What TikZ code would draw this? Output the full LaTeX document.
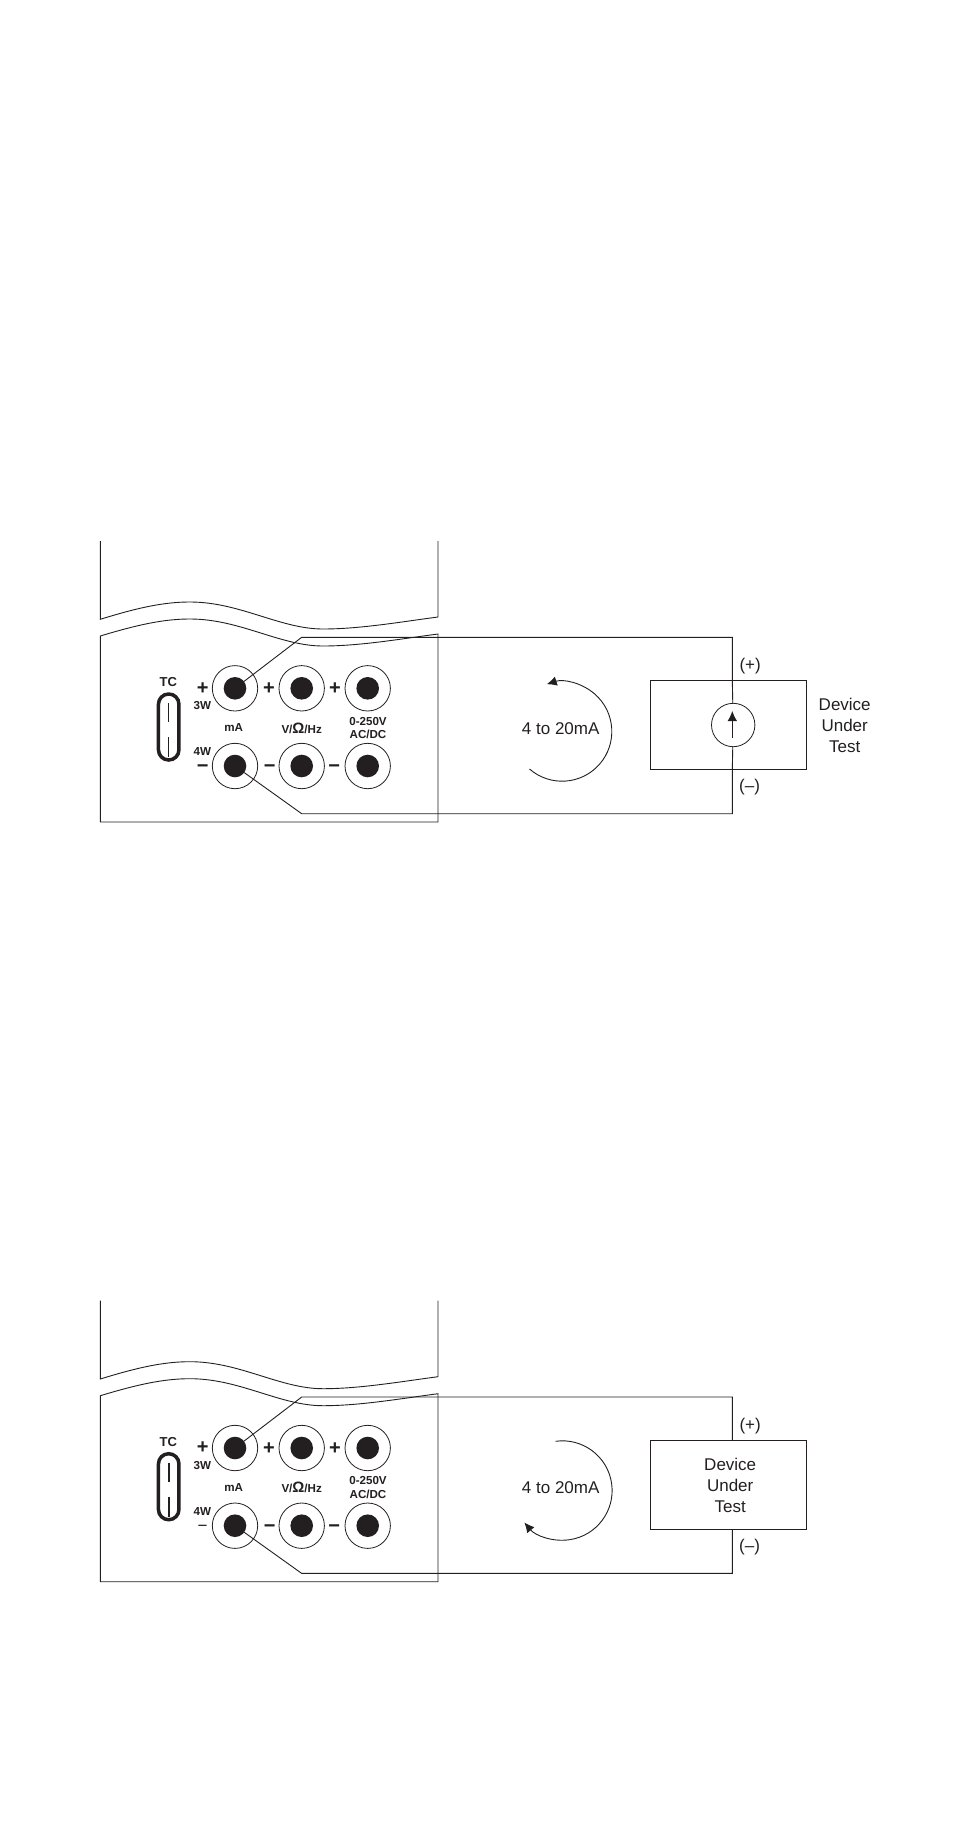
\documentclass[tikz,border=0pt]{standalone}
\usepackage{fontspec}
\setmainfont{Liberation Sans}
\usetikzlibrary{arrows.meta}
\definecolor{ink}{HTML}{231F20}
\tikzset{
    wire/.style={draw=ink, line width=0.9pt},
    tip/.style={-{Latex[length=10pt,width=9.5pt]}},
    ring/.style={shape=circle, draw=ink, line width=0.8pt, minimum size=45.4pt, inner sep=0pt},
    dot/.style={shape=circle, fill=ink, minimum size=22.6pt, inner sep=0pt, outer sep=0pt},
    tag/.style={text=ink, inner sep=0pt, font=\fontsize{11.6}{13.4}\selectfont\bfseries, align=center},
    sign/.style={text=ink, inner sep=0pt, font=\fontsize{20}{20}\selectfont\bfseries},
    word/.style={text=ink, inner sep=0pt, font=\fontsize{17}{21}\selectfont, align=center},
    pics/meter/.style n args={2}{code={
        \draw[wire] (100.3,541) -- (100.3,619.3) .. controls (140,607) and (165,602) .. (190,602)
            .. controls (240,602) and (280,629) .. (323,629)
            .. controls (360,629) and (400,622) .. (438,617) -- (438,541);
        \draw[wire] (100.3,636) .. controls (140,624) and (165,619) .. (190,619)
            .. controls (240,619) and (280,646) .. (323,646)
            .. controls (360,646) and (400,639) .. (438,634) -- (438,822) -- (100.3,822) -- cycle;

        \node[ring] (ringP) at (235,688.3) {};
        \node[ring] (ringV) at (301.7,688.3) {};
        \node[ring] (ringH) at (367.7,688.3) {};
        \node[ring] (ringN) at (235,766) {};
        \node[ring] (ringW) at (301.7,766) {};
        \node[ring] (ringL) at (367.7,766) {};
        \node[dot] (dotP) at (235,688.3) {};
        \node[dot] (dotV) at (301.7,688.3) {};
        \node[dot] (dotH) at (367.7,688.3) {};
        \node[dot] (dotN) at (235,766) {};
        \node[dot] (dotW) at (301.7,766) {};
        \node[dot] (dotL) at (367.7,766) {};

        \node[shape=rectangle, draw=ink, line width=3.5pt, rounded corners=10.2pt,
            minimum width=20.5pt, minimum height=66pt, inner sep=0pt] (tc) at (168.7,727) {};
        \draw[draw=ink, line width=#1] (168.7,703) -- (168.7,722);
        \draw[draw=ink, line width=#1] (168.7,737) -- (168.7,757);

        \node[tag, font=\fontsize{13}{13}\selectfont\bfseries] (tclabel) at (168.3,682) {TC};
        \node[tag] (w3) at (202.3,705.5) {3W};
        \node[tag] (w4) at (202.3,752) {4W};
        \node[tag] (ma) at (233.7,728) {mA};
        \node[tag] (volt) at (301.7,728) {V/{\fontsize{15}{13}\selectfont Ω}/Hz};
        \node[tag] (ac) at (368,728) {0-250V\\AC/DC};
        \node[sign] (plusA) at (202.7,688.3) {+};
        \node[sign] (plusB) at (269,689) {+};
        \node[sign] (plusC) at (335,689) {+};
        \node[sign, #2] (minusA) at (202.7,768.7) {−};
        \node[sign] (minusB) at (269.7,768.7) {−};
        \node[sign] (minusC) at (334.3,768.7) {−};

        \coordinate (kinkP) at (301.7,637.3);
        \coordinate (kinkN) at (301.7,813.7);
        \coordinate (cornerP) at (732.3,637.3);
        \coordinate (cornerN) at (732.3,813.7);
        \coordinate (leadP) at (732.3,680.3);
        \coordinate (leadN) at (732.3,769.3);
        \node[shape=rectangle, draw=ink, line width=0.9pt, minimum width=156pt,
            minimum height=89pt, inner sep=0pt] (dut) at (728.6,724.8) {};
        \draw[wire] (dotP) -- (kinkP) -- (cornerP) -- (leadP);
        \draw[wire] (dotN) -- (kinkN) -- (cornerN) -- (leadN);

        \node[word] (pos) at (750.2,666.3) {(+)};
        \node[word] (neg) at (749.6,787) {(–)};
        \node[word] (range) at (560.7,728.3) {4 to 20mA};
    }}
}
\begin{document}
\begin{tikzpicture}[x=1pt, y=-1pt]
    \useasboundingbox (0,0) rectangle (954,1843);
    % 4-wire loop, source inside the device
    \pic (a-) at (0,0) {meter={0.9pt}{}};
    \node[shape=circle, draw=ink, line width=0.8pt, minimum size=43.4pt, inner sep=0pt] (source) at (733.2,725) {};
    \draw[wire] (a-leadP) -- (source);
    \draw[wire] (a-leadN) -- (source);
    \coordinate (srcfoot) at (732.3,738);
    \coordinate (srchead) at (732.3,711);
    \draw[wire, tip] (srcfoot) -- (srchead);
    \node[word] (device) at (844.7,725.3) {Device\\Under\\Test};
    \coordinate (loopA) at (529.5,769);
    \draw[wire, tip] (loopA) arc[start angle=229, end angle=468, radius=49.7pt];

    % 2-wire loop
    \pic (b-) at (0,759.7) {meter={2.2pt}{font=\fontsize{17}{17}\selectfont}};
    \node[word] (deviceB) at (730.2,1485) {Device\\Under\\Test};
    \coordinate (loopB) at (555.5,1441.3);
    \draw[wire, tip] (loopB) arc[start angle=98, end angle=-140, radius=49.7pt];
\end{tikzpicture}
\end{document}
